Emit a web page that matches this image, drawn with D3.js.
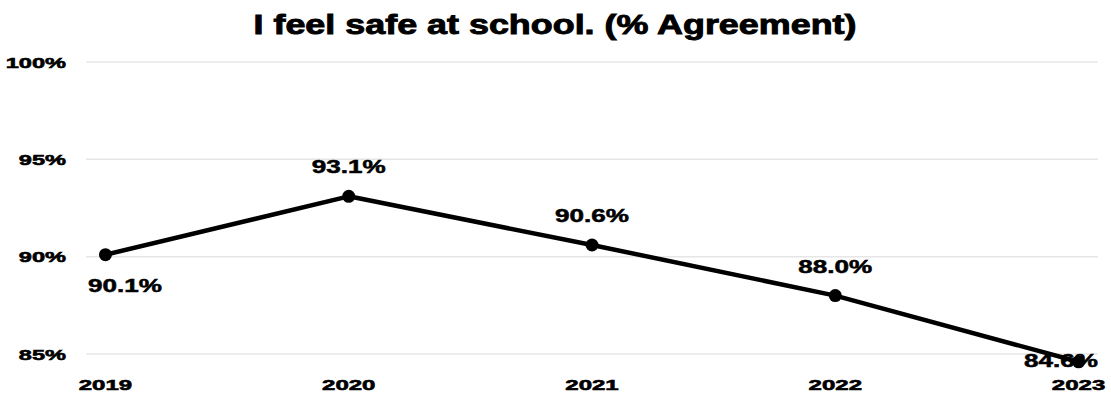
<!DOCTYPE html>
<html>
<head>
<meta charset="utf-8">
<script src="https://cdn.jsdelivr.net/npm/d3@7"></script>
<style>
  html, body { margin: 0; padding: 0; background: #fff; }
  svg text { font-family: "Liberation Sans", Arial, sans-serif; font-weight: bold; fill: #000; }
</style>
</head>
<body>
<div id="chart"></div>
<script>
// data
const years = ['2019', '2020', '2021', '2022', '2023'];
const agreement = [90.1, 93.1, 90.6, 88.0, 84.6];
const yTicks = [85, 90, 95, 100];
const chartTitle = 'I feel safe at school. (% Agreement)';

// layout
const width = 1111,
      height = 396,
      plot = { left: 86, right: 1098, top: 62, bottom: 354 };

// glyphs in the picture are stretched sideways
const stretch = { title: 1.33, tick: 1.52, year: 1.55, label: 1.49 };

const svg = d3.select('#chart').append('svg')
  .attr('width', width)
  .attr('height', height);

const xScale = d3.scalePoint()
  .domain(years)
  .range([plot.left, plot.right])
  .padding(0.08);

const yScale = d3.scaleLinear()
  .domain([85, 100])
  .range([plot.bottom, plot.top]);

function stretchedText(parent, x, y, str, size, sx, anchor, weight) {
  const g = parent.append('g').attr('transform', `translate(${x},${y})`);
  g.append('text')
    .attr('transform', `scale(${sx},1)`)
    .attr('text-anchor', anchor)
    .style('font-size', size + 'px')
    .style('stroke', '#000')
    .style('stroke-width', weight)
    .text(str);
  return g;
}

// gridlines
svg.append('g')
  .selectAll('line')
  .data(yTicks)
  .enter()
  .append('line')
  .attr('x1', plot.left)
  .attr('x2', plot.right)
  .attr('y1', d => yScale(d))
  .attr('y2', d => yScale(d))
  .style('stroke', '#e6e6e6')
  .style('stroke-width', 1.5);

// y tick labels
const $yAxis = svg.append('g');
yTicks.forEach(t => {
  stretchedText($yAxis, 66, yScale(t) + 5.5, t + '%', 15.5, stretch.tick, 'end', 0.6);
});

// x labels
const $xAxis = svg.append('g');
years.forEach(y => {
  stretchedText($xAxis, xScale(y), 390, y, 15.5, stretch.year, 'middle', 0.6);
});

// line
const line = d3.line()
  .x((d, i) => xScale(years[i]))
  .y(d => yScale(d));

svg.append('path')
  .datum(agreement)
  .attr('d', line)
  .style('fill', 'none')
  .style('stroke', '#000')
  .style('stroke-width', 4.5)
  .style('stroke-linejoin', 'round');

svg.append('g')
  .selectAll('circle')
  .data(agreement)
  .enter()
  .append('circle')
  .attr('cx', (d, i) => xScale(years[i]))
  .attr('cy', d => yScale(d))
  .attr('r', 6.5)
  .style('fill', '#000');

// data labels: above by default, first one below, last one centred on its point
const $labels = svg.append('g');
const labelW = 74;
agreement.forEach((v, i) => {
  let x = xScale(years[i]),
      y = yScale(v) - 23;
  if (i === 0) y = yScale(v) + 37;
  if (i === agreement.length - 1) y = yScale(v) + 5;
  // keep inside the plot
  x = Math.max(plot.left + 2 + labelW / 2, Math.min(plot.right - labelW / 2, x));
  stretchedText($labels, x, y, v.toFixed(1) + '%', 17.5, stretch.label, 'middle', 0.5);
});

// title
stretchedText(svg, 555, 34, chartTitle, 27, stretch.title, 'middle', 0.9);
</script>
</body>
</html>
